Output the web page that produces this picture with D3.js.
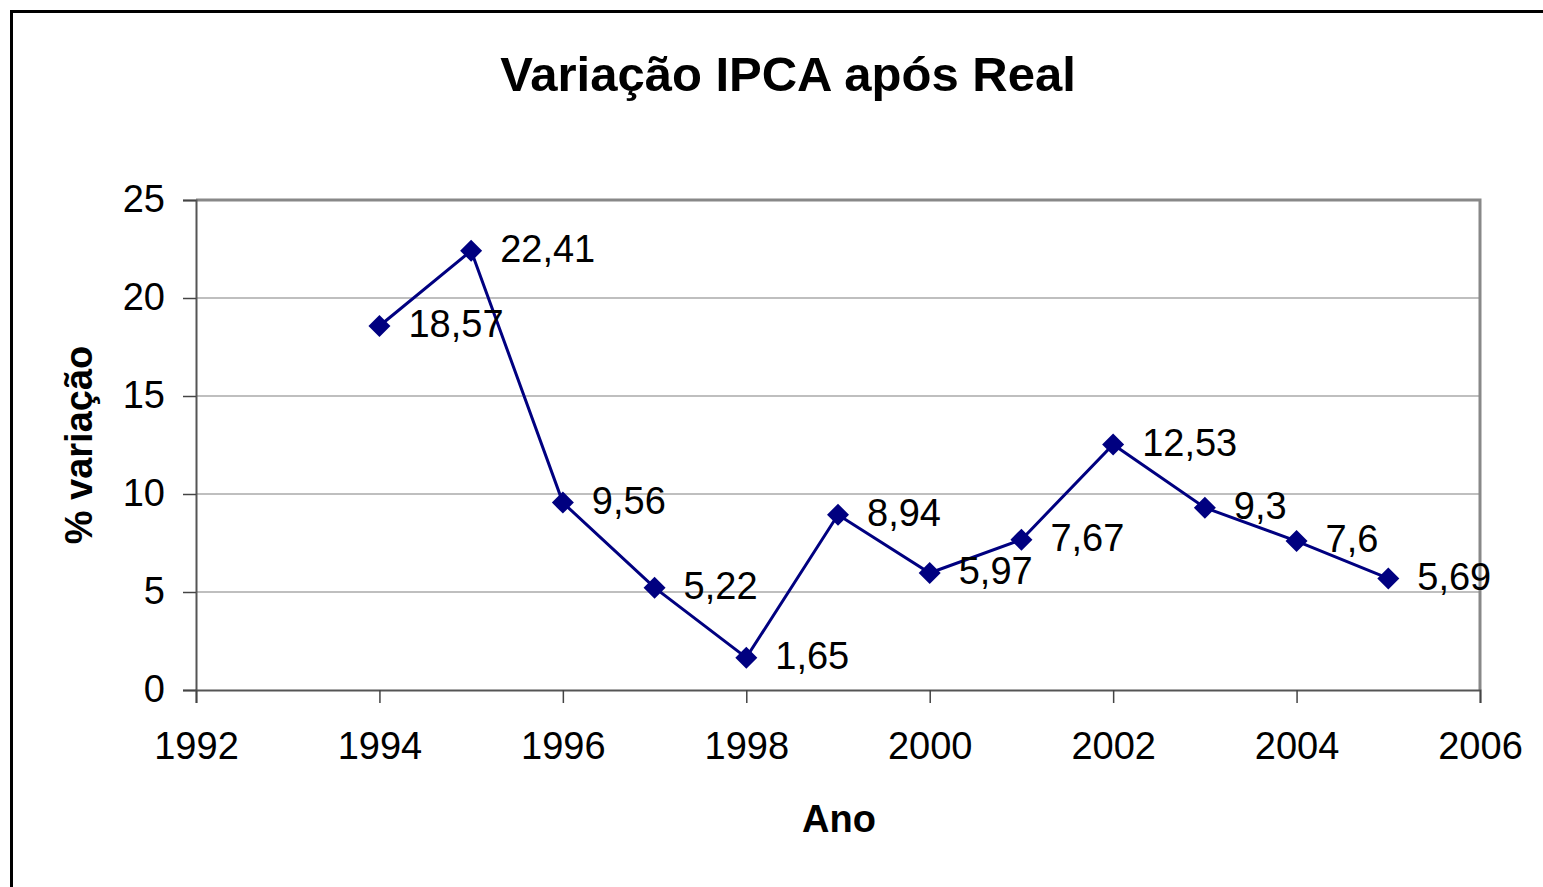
<!DOCTYPE html>
<html>
<head>
<meta charset="utf-8">
<script src="https://cdn.jsdelivr.net/npm/d3@7"></script>
<style>
	body { margin: 0; background: #fff; }
	svg { display: block; font-family: Arial, 'Liberation Sans', sans-serif; }
</style>
</head>
<body>
<svg id="chart" width="1543" height="887"></svg>
<script>
// IPCA yearly variation after Plano Real
const years = [1994, 1995, 1996, 1997, 1998, 1999, 2000, 2001, 2002, 2003, 2004, 2005];
const values = [18.57, 22.41, 9.56, 5.22, 1.65, 8.94, 5.97, 7.67, 12.53, 9.3, 7.6, 5.69];
const xTicks = [1992, 1994, 1996, 1998, 2000, 2002, 2004, 2006];
const yTicks = [0, 5, 10, 15, 20, 25];

const svg = d3.select('#chart');
const margin = { left: 196, top: 200, right: 1480, bottom: 690 };

// outer frame (runs off the right and bottom edge)
svg.append('rect')
	.attr('x', 11.5).attr('y', 11.5)
	.attr('width', 1600).attr('height', 1000)
	.attr('fill', '#fff').attr('stroke', '#000').attr('stroke-width', 3);

const x = d3.scaleLinear().domain([1992, 2006]).range([margin.left, margin.right]);
const y = d3.scaleLinear().domain([0, 25]).range([margin.bottom, margin.top]);

// gridlines
svg.append('g')
	.selectAll('line')
	.data(yTicks.filter((d) => d > 0 && d < 25))
	.enter()
	.append('line')
	.attr('x1', margin.left).attr('x2', margin.right)
	.attr('y1', (d) => y(d)).attr('y2', (d) => y(d))
	.attr('stroke', '#808080').attr('stroke-width', 1.2);

// plot frame top/right
svg.append('path')
	.attr('d', 'M' + margin.left + ',' + margin.top + 'H' + margin.right + 'V' + margin.bottom)
	.attr('fill', 'none').attr('stroke', '#888').attr('stroke-width', 3);

// axes
const yAxis = svg.append('g')
	.attr('transform', 'translate(' + margin.left + ',0)')
	.call(d3.axisLeft(y).tickValues(yTicks).tickSize(13).tickPadding(18));
const xAxis = svg.append('g')
	.attr('transform', 'translate(0,' + margin.bottom + ')')
	.call(d3.axisBottom(x).tickValues(xTicks).tickFormat(d3.format('d')).tickSize(13).tickPadding(29));

[yAxis, xAxis].forEach((g) => {
	g.select('.domain').attr('stroke', '#555').attr('stroke-width', 2);
	g.selectAll('.tick line').attr('stroke', '#444').attr('stroke-width', 1.5);
	g.selectAll('.tick text').attr('font-size', 38).attr('font-family', 'Arial, Liberation Sans, sans-serif').attr('fill', '#000');
});
yAxis.selectAll('.tick text').attr('dy', '0.3em');

// line
const line = d3.line().x((d, i) => x(years[i])).y((d) => y(d));
svg.append('path')
	.datum(values)
	.attr('d', line)
	.attr('fill', 'none')
	.attr('stroke', '#000080')
	.attr('stroke-width', 3);

// diamond markers
svg.append('g')
	.selectAll('path')
	.data(values)
	.enter()
	.append('path')
	.attr('transform', (d, i) => 'translate(' + x(years[i]) + ',' + y(d) + ')')
	.attr('d', 'M0,-11L11,0L0,11L-11,0Z')
	.attr('fill', '#000080');

// data labels
const fmt = (v) => String(v).replace('.', ',');
svg.append('g')
	.selectAll('text')
	.data(values)
	.enter()
	.append('text')
	.attr('x', (d, i) => x(years[i]) + 29)
	.attr('y', (d) => y(d))
	.attr('dy', '0.3em')
	.attr('font-size', 38)
	.text((d) => fmt(d));

// titles
svg.append('text')
	.attr('x', 788).attr('y', 91)
	.attr('text-anchor', 'middle')
	.attr('font-size', 49).attr('font-weight', 'bold')
	.text('Variação IPCA após Real');

svg.append('text')
	.attr('x', 839).attr('y', 832)
	.attr('text-anchor', 'middle')
	.attr('font-size', 38).attr('font-weight', 'bold')
	.text('Ano');

svg.append('text')
	.attr('transform', 'translate(92,445) rotate(-90)')
	.attr('text-anchor', 'middle')
	.attr('font-size', 38).attr('font-weight', 'bold')
	.text('% variação');
</script>
</body>
</html>
